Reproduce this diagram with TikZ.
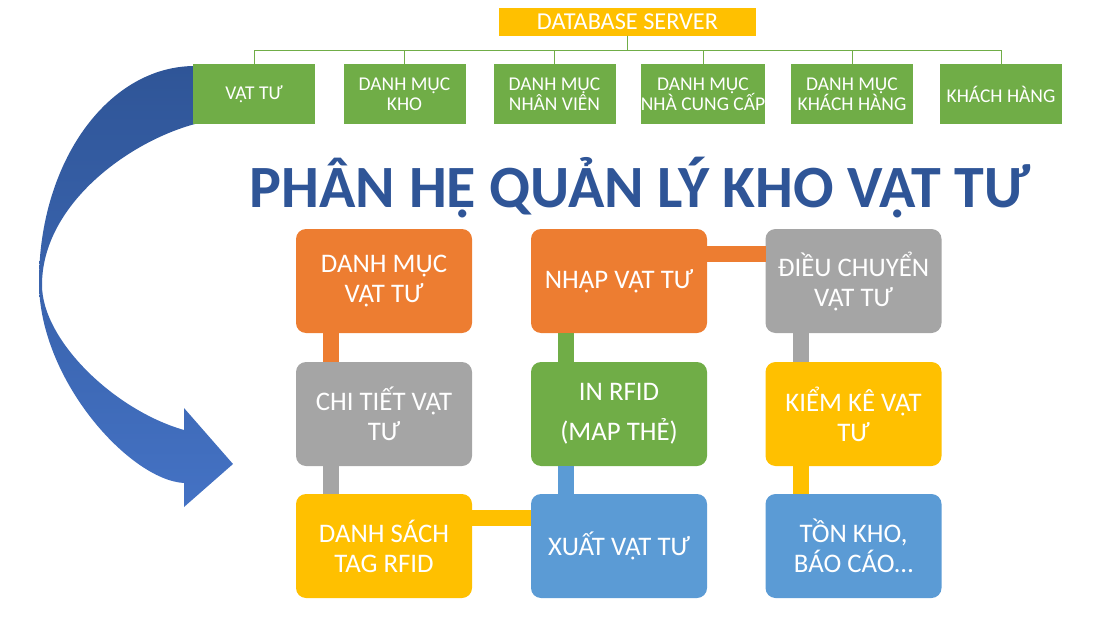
\documentclass[tikz,border=0pt]{standalone}
\usepackage{fontspec}
\setmainfont{Carlito}
\usetikzlibrary{calc}
\definecolor{cOrange}{HTML}{ED7D31}
\definecolor{cGray}{HTML}{A5A5A5}
\definecolor{cYellow}{HTML}{FFC000}
\definecolor{cBlue}{HTML}{5B9BD5}
\definecolor{cGreen}{HTML}{70AD47}
\definecolor{cTitle}{HTML}{2F5597}
\definecolor{cArrowTop}{HTML}{2F5597}
\definecolor{cArrowBot}{HTML}{4472C4}
\begin{document}
\begin{tikzpicture}[x=1pt,y=-1pt,
 topbox/.style={fill=cGreen, text=white, minimum width=122pt, minimum height=60pt, inner sep=0pt, outer sep=0pt, align=center, font=\fontsize{19.5}{20.5}\selectfont},
 server/.style={fill=cYellow, text=white, minimum width=257pt, minimum height=28pt, inner sep=0pt, outer sep=0pt, font=\fontsize{24.3}{26}\selectfont},
 tree/.style={draw=cGreen, line width=1pt},
 procbox/.style={rounded corners=10pt, minimum width=176pt, minimum height=104pt, inner sep=0pt, outer sep=0pt, text=white, align=center, font=\fontsize{26.8}{30}\selectfont},
 bar/.style={line width=16pt},
]
\useasboundingbox (0,0) rectangle (1095,623);

% curved arrow
\shade[top color=cArrowTop, bottom color=cArrowBot]
 (195,66) .. controls (108,66) and (39,162) .. (39,282)
 .. controls (39,380) and (130,480) .. (184,483)
 -- (184,507) -- (233,464) -- (184,408) -- (184,430)
 .. controls (114,410) and (42,340) .. (42,285)
 .. controls (42,205) and (128,142) .. (195,124) -- cycle;

% top tree
\node[server] (srv) at (627.5,22) {DATABASE SERVER};
\node[topbox] (t1) at (254,94) {VẬT TƯ};
\node[topbox] (t2) at (404.5,94) {DANH MỤC\\KHO};
\node[topbox] (t3) at (554.5,94) {DANH MỤC\\NHÂN VIÊN};
\node[topbox] (t4) at (703,94) {DANH MỤC\\NHÀ CUNG CẤP};
\node[topbox] (t5) at (852,94) {DANH MỤC\\KHÁCH HÀNG};
\node[topbox] (t6) at (1001,94) {KHÁCH HÀNG};
\foreach \i in {1,...,6} \draw[tree] (srv.south) -- ++(0,15) -| (t\i.north);

% title
\node[font=\fontsize{60}{64}\selectfont\bfseries, text=cTitle, anchor=base, inner sep=0pt] (title) at (640,207) {PHÂN HỆ QUẢN LÝ KHO VẬT TƯ};

% process boxes
\node[procbox, fill=cOrange] (b11) at (384,281) {DANH MỤC\\VẬT TƯ};
\node[procbox, fill=cGray] (b21) at (384,414) {CHI TIẾT VẬT\\TƯ};
\node[procbox, fill=cYellow] (b31) at (384,546) {DANH SÁCH\\TAG RFID};
\node[procbox, fill=cOrange] (b12) at (619,281) {NHẬP VẬT TƯ};
\node[procbox, fill=cGreen, font=\fontsize{26.8}{40}\selectfont] (b22) at (619,414) {IN RFID\\(MAP THẺ)};
\node[procbox, fill=cBlue] (b32) at (619,546) {XUẤT VẬT TƯ};
\node[procbox, fill=cGray] (b13) at (853.5,281) {ĐIỀU CHUYỂN\\VẬT TƯ};
\node[procbox, fill=cYellow] (b23) at (853.5,414) {KIỂM KÊ VẬT\\TƯ};
\node[procbox, fill=cBlue] (b33) at (853.5,546) {TỒN KHO,\\BÁO CÁO…};

% connectors
\draw[bar, cOrange] ($(b11.south west)+(35,0)$) -- ($(b21.north west)+(35,0)$);
\draw[bar, cGray] ($(b21.south west)+(35,0)$) -- ($(b31.north west)+(35,0)$);
\draw[bar, cYellow] ($(b31.north east)+(0,24)$) -- ($(b32.north west)+(0,24)$);
\draw[bar, cBlue] ($(b32.north west)+(35,0)$) -- ($(b22.south west)+(35,0)$);
\draw[bar, cGreen] ($(b22.north west)+(35,0)$) -- ($(b12.south west)+(35,0)$);
\draw[bar, cOrange] ($(b12.north east)+(0,25)$) -- ($(b13.north west)+(0,25)$);
\draw[bar, cGray] ($(b13.south west)+(35,0)$) -- ($(b23.north west)+(35,0)$);
\draw[bar, cYellow] ($(b23.south west)+(35,0)$) -- ($(b33.north west)+(35,0)$);
\end{tikzpicture}
\end{document}
